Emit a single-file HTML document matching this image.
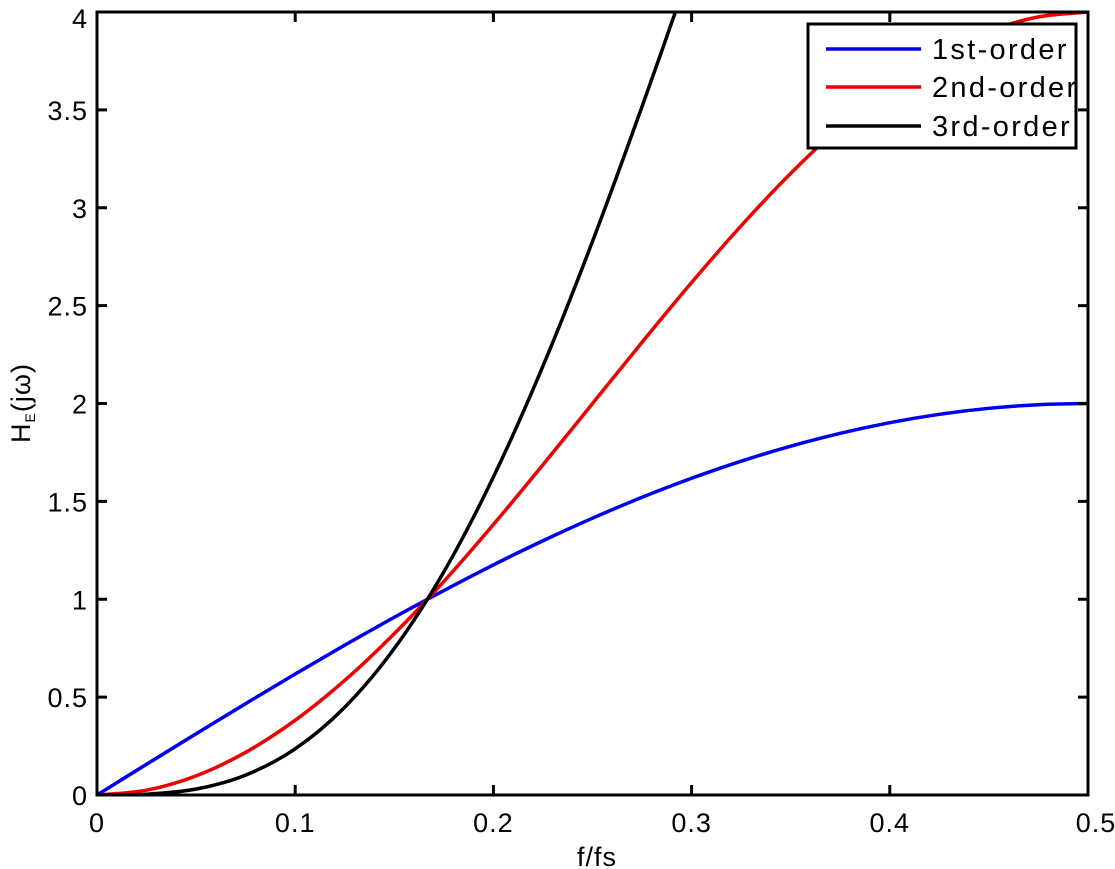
<!DOCTYPE html>
<html><head><meta charset="utf-8"><style>
html,body{margin:0;padding:0;background:#fff;}
svg{display:block;font-family:"Liberation Sans","DejaVu Sans",sans-serif;}
</style></head><body>
<svg id="chart" width="1115" height="869" viewBox="0 0 1115 869">
<defs><clipPath id="pc"><rect x="97" y="12" width="991" height="783"/></clipPath>
<clipPath id="lc"><rect x="808" y="24" width="268" height="124"/></clipPath></defs>
<g id="series" clip-path="url(#pc)"></g>
<rect x="97" y="12" width="991" height="783" fill="none" stroke="#000" stroke-width="3"/>
<g id="axes"></g>
<text x="597" y="866" font-size="27" text-anchor="middle" letter-spacing="1">f/fs</text>
<text transform="translate(30,403) rotate(-90)" font-size="27" text-anchor="middle" letter-spacing="1">H<tspan font-size="14" dy="5">E</tspan><tspan dy="-5">(jω)</tspan></text>
<g>
<rect x="808" y="24" width="268" height="124" fill="#fff" stroke="#000" stroke-width="3"/>
<g clip-path="url(#lc)">
<line x1="826" y1="49" x2="921" y2="49" stroke="#0000ee" stroke-width="3.5"/>
<text x="932" y="59" font-size="29" letter-spacing="2.3">1st-order</text>
<line x1="826" y1="87" x2="921" y2="87" stroke="#ee0000" stroke-width="3.5"/>
<text x="932" y="97" font-size="29" letter-spacing="2.3">2nd-order</text>
<line x1="826" y1="126" x2="921" y2="126" stroke="#000" stroke-width="3.5"/>
<text x="932" y="136" font-size="29" letter-spacing="2.3">3rd-order</text>
</g>
</g>
</svg>
<script>
const freqs=[0,0.025,0.05,0.075,0.1,0.125,0.15,0.175,0.2,0.225,0.25,0.275,0.3,0.325,0.35,0.375,0.4,0.425,0.45,0.475,0.5];
const first=[0,0.1569,0.3129,0.4669,0.618,0.7654,0.908,1.0446,1.1756,1.2989,1.4142,1.5208,1.618,1.7053,1.782,1.8478,1.9021,1.9447,1.9754,1.9938,2];
const second=[0,0.0246,0.0979,0.218,0.382,0.5858,0.8244,1.0912,1.382,1.687,2.0,2.3129,2.618,2.908,3.1756,3.4142,3.618,3.782,3.902,3.975,4];
const third=[0,0.0039,0.0306,0.1018,0.236,0.4484,0.7486,1.1399,1.6246,2.191,2.828,3.517,4.236];
const xTicks=[0,0.1,0.2,0.3,0.4,0.5];
const xTickLabels=["0","0.1","0.2","0.3","0.4","0.5"];
const yTicks=[0,0.5,1,1.5,2,2.5,3,3.5,4];
const yTickLabels=["0","0.5","1","1.5","2","2.5","3","3.5","4"];
const X0=97,X1=1088,Y0=795,Y1=12;
function xs(v){return X0+(v-0)/(0.5-0)*(X1-X0);}
function ys(v){return Y0-(v-0)/(4-0)*(Y0-Y1);}
const NS='http://www.w3.org/2000/svg';
function pathFor(xv,yv){
  const p=xv.slice(0,yv.length).map((x,i)=>[xs(x),ys(yv[i])]);
  let d='M'+p[0][0]+','+p[0][1];
  for(let i=0;i<p.length-1;i++){
    const a=p[Math.max(0,i-1)],b=p[i],c=p[i+1],e=p[Math.min(p.length-1,i+2)];
    const c1=[b[0]+(c[0]-a[0])/6,b[1]+(c[1]-a[1])/6];
    const c2=[c[0]-(e[0]-b[0])/6,c[1]-(e[1]-b[1])/6];
    d+=' C'+c1[0]+','+c1[1]+' '+c2[0]+','+c2[1]+' '+c[0]+','+c[1];
  }
  return d;
}
const sg=document.getElementById('series');
function addLine(vals,color,name){
  const el=document.createElementNS(NS,'path');
  el.setAttribute('d',pathFor(freqs,vals));
  el.setAttribute('fill','none');el.setAttribute('stroke',color);el.setAttribute('stroke-width','3.5');
  
  
  sg.appendChild(el);
}
addLine(first,'#0000ee','line-1st-order');
addLine(second,'#ee0000','line-2nd-order');
addLine(third,'#000000','line-3rd-order');
const ag=document.getElementById('axes');
xTicks.forEach((t,i)=>{
  const x=xs(t);
  [[Y0,Y0-10],[Y1,Y1+10]].forEach(([a,b])=>{
    const l=document.createElementNS(NS,'line');
    l.setAttribute('x1',x);l.setAttribute('x2',x);l.setAttribute('y1',a);l.setAttribute('y2',b);
    l.setAttribute('stroke','#000');l.setAttribute('stroke-width','3');
    
    
    ag.appendChild(l);
  });
  const tx=document.createElementNS(NS,'text');
  tx.setAttribute('x',i===xTicks.length-1?x+8:x);tx.setAttribute('y',832);
  tx.setAttribute('font-size','27');tx.setAttribute('text-anchor','middle');tx.setAttribute('letter-spacing','1');
  tx.textContent=xTickLabels[i];
  
  
  ag.appendChild(tx);
});
yTicks.forEach((t,i)=>{
  const y=ys(t);
  [[X0,X0+10],[X1,X1-10]].forEach(([a,b])=>{
    const l=document.createElementNS(NS,'line');
    l.setAttribute('y1',y);l.setAttribute('y2',y);l.setAttribute('x1',a);l.setAttribute('x2',b);
    l.setAttribute('stroke','#000');l.setAttribute('stroke-width','3');
    
    
    ag.appendChild(l);
  });
  const tx=document.createElementNS(NS,'text');
  tx.setAttribute('x',88);tx.setAttribute('y',i===yTicks.length-1?y+16:y+10);
  tx.setAttribute('font-size','27');tx.setAttribute('text-anchor','end');tx.setAttribute('letter-spacing','1');
  tx.textContent=yTickLabels[i];
  
  
  ag.appendChild(tx);
});
</script>
</body></html>
